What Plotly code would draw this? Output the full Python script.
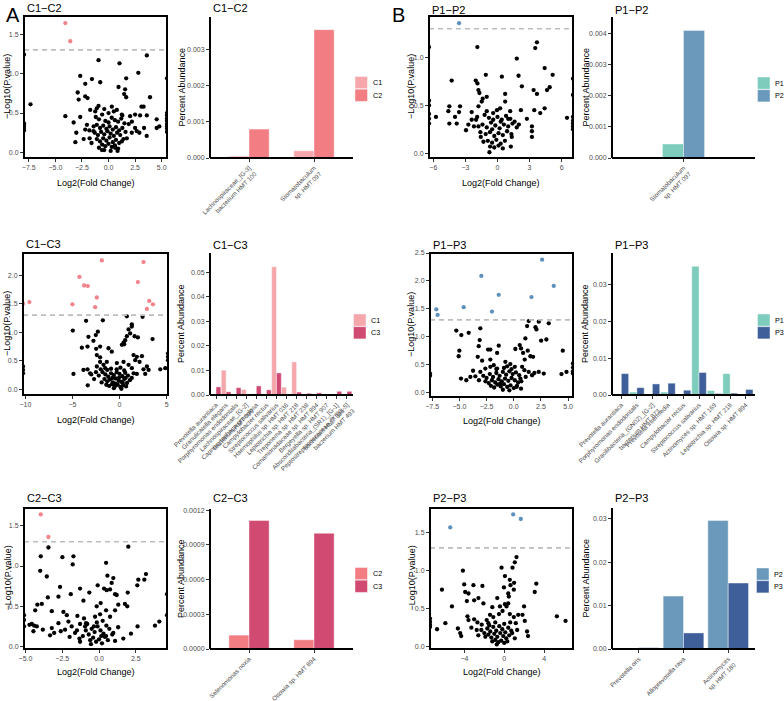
import plotly.graph_objects as go

W, H = 784, 701
FONT = "Liberation Sans, Arial, Helvetica, sans-serif"
THRESH = 1.301  # -log10(0.05)

# ---------------- volcano data: (log2 fold change, -log10 p) ----------------
volc_c1c2 = [
    (-4.06, 1.64), (-3.6, 1.41),
    (-7.95, 1.24), (-7.34, 0.61), (-7.95, 0.37), (-7.95, 0.34), (-7.95, 0.31), (-7.95, 0.28),
    (5.5, 0.94), (5.5, 0.5), (5.5, 0.47), (5.5, 0.43), (5.5, 0.4), (5.5, 0.36), (5.5, 0.33), (5.5, 0.3), (5.5, 0.26),
    (3.6, 1.23), (1.03, 1.13), (-0.94, 1.17), (2.8, 1.01), (-2.66, 0.97), (-1.56, 0.93), (-0.78, 0.89),
    (1.66, 0.94), (-2.19, 0.87), (0.94, 0.83), (1.56, 0.80), (-2.9, 0.76), (-2.19, 0.71), (-1.97, 0.69),
    (-2.81, 0.67), (1.47, 0.74), (1.66, 0.70), (3.9, 0.70), (3.1, 0.58), (3.3, 0.58), (0.31, 0.58),
    (-0.94, 0.59), (-1.1, 0.56), (-1.72, 0.54), (-1.25, 0.52), (-4.06, 0.46), (-2.66, 0.45), (-3.28, 0.38),
    (0.78, 0.54), (1.25, 0.48), (2.03, 0.46), (2.5, 0.48), (2.97, 0.47), (3.6, 0.47), (4.53, 0.42),
    (4.78, 0.33), (4.53, 0.31), (3.34, 0.31), (3.59, 0.21), (2.5, 0.31), (2.19, 0.25), (-2.03, 0.35),
    (-2.19, 0.29), (-3.03, 0.25), (-3.12, 0.13), (-2.34, 0.17), (-1.78, 0.18), (-1.41, 0.27),
    (2.66, 0.27), (2.9, 0.25), (1.72, 0.18), (1.25, 0.14), (0.62, 0.06), (-0.62, 0.03), (0.85, 0.02),
    (-1.2, 0.45), (-0.9, 0.42), (-0.6, 0.48), (-0.3, 0.40), (0.0, 0.38), (0.3, 0.44), (0.6, 0.41),
    (0.9, 0.39), (1.2, 0.43), (1.5, 0.37), (-1.4, 0.33), (-1.1, 0.35), (-0.8, 0.31), (-0.5, 0.34),
    (-0.2, 0.30), (0.1, 0.33), (0.4, 0.29), (0.7, 0.32), (1.0, 0.28), (1.3, 0.31), (-1.3, 0.25),
    (-1.0, 0.22), (-0.7, 0.26), (-0.4, 0.23), (-0.1, 0.27), (0.2, 0.24), (0.5, 0.21), (0.8, 0.25),
    (1.1, 0.22), (1.6, 0.26), (-1.1, 0.17), (-0.8, 0.14), (-0.5, 0.18), (-0.2, 0.15), (0.1, 0.19),
    (0.4, 0.13), (0.7, 0.16), (1.0, 0.12), (-0.6, 0.10), (-0.3, 0.08), (0.0, 0.11), (0.3, 0.07),
    (0.6, 0.09), (-0.9, 0.06), (0.9, 0.05), (-0.4, 0.03), (0.2, 0.02), (-1.6, 0.12), (1.4, 0.17),
    (-1.8, 0.28), (0.0, 0.50), (-0.4, 0.55), (0.5, 0.52), (1.3, 0.47), (1.9, 0.36), (2.2, 0.39),
]

volc_c1c3 = [
    (-9.57, 1.53), (-10.25, 1.50), (-5.0, 1.49), (-4.26, 1.97), (-3.76, 1.82), (-3.37, 1.81),
    (-2.41, 1.61), (-2.59, 1.44), (-1.88, 2.26), (2.55, 2.23), (1.95, 1.88), (3.16, 1.55),
    (3.55, 1.49), (2.91, 1.41),
    (0.78, 1.28), (2.45, 1.27), (-3.55, 1.20), (-1.77, 1.21), (-4.96, 1.03), (0.96, 1.05),
    (1.31, 1.14), (1.31, 1.10), (1.13, 0.98), (0.78, 0.93), (0.6, 0.86), (1.6, 0.93), (1.95, 0.91),
    (3.51, 0.88), (-3.3, 0.92), (-2.52, 0.95), (-2.3, 1.01), (-2.77, 0.85), (-3.4, 0.75), (-4.0, 0.73),
    (-2.06, 0.75), (-2.48, 0.71), (-2.41, 0.60), (-2.06, 0.56), (-1.17, 0.72), (-0.82, 0.66),
    (0.25, 0.78), (0.43, 0.82), (0.5, 0.79), (1.49, 0.60), (1.84, 0.57), (2.38, 0.58), (2.13, 0.48),
    (1.67, 0.51), (5.15, 0.63), (5.15, 0.57), (5.15, 0.51), (-10.25, 0.40), (-10.25, 0.34),
    (-10.25, 0.28), (-4.89, 0.27), (-3.83, 0.34), (-3.4, 0.35), (-3.12, 0.28), (-3.37, 0.07),
    (-2.41, 0.40), (-2.06, 0.48), (-1.7, 0.43), (-1.35, 0.48), (-1.52, 0.37), (-0.28, 0.46),
    (0.43, 0.48), (0.96, 0.43), (1.31, 0.37), (1.84, 0.27), (2.55, 0.35), (2.91, 0.40), (3.09, 0.34),
    (2.73, 0.27), (4.33, 0.35), (4.86, 0.37),
    (-1.8, 0.30), (-1.5, 0.26), (-1.2, 0.22), (-0.9, 0.28), (-0.6, 0.25), (-0.3, 0.30), (0.0, 0.27),
    (0.3, 0.23), (0.6, 0.29), (0.9, 0.24), (-1.6, 0.18), (-1.3, 0.14), (-1.0, 0.17), (-0.7, 0.12),
    (-0.4, 0.19), (-0.1, 0.15), (0.2, 0.13), (0.5, 0.18), (0.8, 0.11), (1.1, 0.16), (-1.4, 0.08),
    (-1.1, 0.06), (-0.8, 0.09), (-0.5, 0.05), (-0.2, 0.08), (0.1, 0.04), (0.4, 0.07), (0.7, 0.05),
    (-0.6, 0.02), (0.2, 0.01), (-2.2, 0.24), (-2.5, 0.30), (-1.9, 0.12), (1.3, 0.20), (1.5, 0.28),
    (-0.3, 0.35), (0.1, 0.38), (-0.9, 0.36), (0.5, 0.33), (-1.3, 0.34), (-0.45, 0.10), (0.35, 0.11),
    (-0.05, 0.20), (-0.75, 0.20), (0.65, 0.20), (-2.7, 0.18), (-3.0, 0.26), (-2.0, 0.35),
]

volc_c2c3 = [
    (-3.96, 1.64), (-3.44, 1.36),
    (-3.44, 1.23), (-3.96, 1.12), (-2.49, 1.11), (-1.74, 1.12), (-1.79, 1.02), (-4.0, 0.94),
    (-3.55, 0.87), (-2.65, 0.74), (-1.92, 0.65), (-3.48, 0.61), (-2.76, 0.62), (-1.06, 0.57),
    (-1.29, 0.72), (-0.66, 0.67), (-0.09, 0.76), (0.48, 1.04), (0.57, 0.88), (0.97, 0.85),
    (0.86, 0.79), (0.34, 0.72), (0.52, 0.70), (0.75, 0.71), (1.09, 0.65), (1.2, 0.64), (1.99, 1.24),
    (1.95, 0.67), (2.67, 0.83), (2.6, 0.76), (3.08, 0.83), (3.19, 0.90), (4.62, 0.65), (4.62, 0.39),
    (4.1, 0.31), (3.8, 0.26), (2.62, 0.25), (2.17, 0.16), (1.65, 0.10), (1.09, 0.07), (1.31, 0.52),
    (1.76, 0.53), (1.92, 0.50), (1.09, 0.45), (0.11, 0.54), (-0.16, 0.50), (0.07, 0.40), (0.48, 0.45),
    (0.75, 0.37), (-0.27, 0.37), (-1.02, 0.35), (-1.47, 0.38), (-2.19, 0.39), (-2.42, 0.43),
    (-3.21, 0.44), (-4.19, 0.52), (-3.89, 0.53), (-4.34, 0.45), (-5.1, 0.39), (-5.1, 0.33),
    (-5.1, 0.25), (-4.73, 0.27), (-4.57, 0.28), (-4.41, 0.26), (-4.23, 0.25), (-4.46, 0.19),
    (-3.82, 0.21), (-3.21, 0.23), (-3.33, 0.14), (-3.05, 0.17), (-2.76, 0.29), (-2.6, 0.19),
    (-2.31, 0.21), (-2.08, 0.31), (-1.86, 0.25), (-1.63, 0.17), (-1.29, 0.28), (-0.95, 0.25),
    (-1.29, 0.06), (-1.33, 0.10), (-0.88, 0.29), (0.97, 0.17), (0.48, 0.13),
    (-0.9, 0.20), (-0.7, 0.15), (-0.5, 0.22), (-0.3, 0.18), (-0.1, 0.25), (0.1, 0.20), (0.3, 0.16),
    (-0.6, 0.08), (-0.4, 0.11), (-0.2, 0.06), (0.0, 0.09), (0.2, 0.04), (0.4, 0.12), (-0.8, 0.28),
    (-0.15, 0.30), (0.5, 0.26), (0.7, 0.22), (0.9, 0.15), (-0.55, 0.03), (0.15, 0.13), (-1.1, 0.13),
    (0.6, 0.08), (-0.35, 0.25), (-2.0, 0.12), (-1.5, 0.20), (1.3, 0.24), (0.25, 0.32),
]

volc_p1p2 = [
    (-3.59, 1.36),
    (-6.4, 1.11), (-1.88, 1.11), (3.69, 1.16), (3.53, 1.10), (1.81, 0.99), (4.41, 0.89), (5.16, 0.82),
    (1.97, 0.81), (0.41, 0.80), (-1.09, 0.82), (-4.28, 0.76), (-2.03, 0.76), (-1.87, 0.73),
    (-1.78, 0.66), (-1.69, 0.63), (2.28, 0.70), (3.38, 0.66), (3.69, 0.62), (4.63, 0.66), (4.88, 0.69),
    (0.72, 0.62), (0.72, 0.54), (-1.38, 0.57), (-1.47, 0.54), (-1.78, 0.49), (-1.0, 0.59),
    (-4.5, 0.49), (-3.5, 0.49), (-4.59, 0.44), (-3.59, 0.43), (-3.97, 0.38), (-5.75, 0.38),
    (-4.5, 0.31), (-3.81, 0.31), (-2.41, 0.43), (-1.0, 0.44), (1.19, 0.44), (2.19, 0.45), (3.44, 0.45),
    (4.41, 0.47), (4.0, 0.42), (2.75, 0.36), (3.22, 0.28), (3.22, 0.23), (3.22, 0.17), (1.34, 0.17),
    (1.25, 0.07), (-2.94, 0.24), (-2.72, 0.30), (-2.41, 0.35), (-2.0, 0.35), (-1.78, 0.28),
    (-1.56, 0.17), (-1.31, 0.12), (-0.75, 0.01), (-0.69, 0.07), (6.5, 0.37),
    (7.06, 0.78), (7.06, 0.61), (7.06, 0.38), (7.06, 0.34), (7.06, 0.31), (7.06, 0.28), (7.06, 0.25),
    (-6.4, 0.55), (-6.4, 0.50), (-6.4, 0.41), (-6.4, 0.36), (-6.4, 0.31),
    (-1.2, 0.40), (-0.8, 0.37), (-0.4, 0.42), (0.0, 0.38), (0.4, 0.35), (0.8, 0.39), (1.2, 0.36),
    (1.6, 0.33), (-1.4, 0.30), (-1.0, 0.27), (-0.6, 0.32), (-0.2, 0.29), (0.2, 0.26), (0.6, 0.30),
    (1.0, 0.28), (1.4, 0.31), (1.8, 0.27), (-1.1, 0.20), (-0.7, 0.22), (-0.3, 0.18), (0.1, 0.21),
    (0.5, 0.19), (0.9, 0.23), (1.3, 0.20), (-0.9, 0.13), (-0.5, 0.11), (-0.1, 0.14), (0.3, 0.10),
    (0.7, 0.13), (-0.3, 0.06), (0.1, 0.08), (0.5, 0.05), (-1.6, 0.22), (2.0, 0.30), (-0.5, 0.25),
    (0.3, 0.33), (-0.05, 0.45), (0.25, 0.47), (-2.2, 0.28), (-1.9, 0.38), (1.0, 0.36), (-0.4, 0.35),
]

volc_p1p3 = [
    (-7.12, 1.49), (-7.0, 1.39), (-4.6, 1.53), (-2.98, 2.09), (-1.38, 1.75), (-2.0, 1.45),
    (1.63, 1.71), (2.61, 2.38), (3.68, 1.91),
    (1.38, 1.28), (2.3, 1.27), (3.22, 1.24), (1.23, 1.19), (2.0, 1.17), (2.09, 1.13), (-3.07, 1.15),
    (-5.28, 1.11), (-4.82, 1.03), (-4.14, 1.07), (-3.13, 0.94), (1.07, 0.97), (2.52, 0.93), (3.0, 0.95),
    (-3.22, 0.83), (-1.38, 0.84), (-2.36, 0.77), (-2.15, 0.77), (-1.53, 0.71), (-2.15, 0.59),
    (0.15, 0.78), (0.55, 0.85), (0.67, 0.79), (0.86, 0.71), (1.29, 0.75), (1.53, 0.65), (1.78, 0.64),
    (1.01, 0.59), (-5.0, 0.75), (-5.06, 0.65), (-3.31, 0.64), (-2.91, 0.57), (4.51, 0.75),
    (5.45, 0.52), (5.45, 0.45), (5.45, 0.38), (5.45, 0.34), (4.39, 0.33), (4.85, 0.37),
    (-7.7, 0.34), (-7.7, 0.30), (-4.85, 0.25), (-3.74, 0.39), (-3.53, 0.29), (-4.36, 0.22),
    (-3.99, 0.28), (-3.07, 0.37), (-2.61, 0.43), (-2.15, 0.46), (-1.84, 0.49), (-1.53, 0.43),
    (-0.77, 0.55), (-0.61, 0.47), (-0.31, 0.51), (0.77, 0.46), (0.98, 0.40), (1.38, 0.37), (1.9, 0.35),
    (2.3, 0.37), (2.76, 0.34), (1.69, 0.31), (0.61, 0.25), (0.25, 0.10), (0.67, 0.07),
    (-2.8, 0.30), (-2.5, 0.26), (-2.2, 0.33), (-1.9, 0.28), (-1.6, 0.35), (-1.3, 0.30), (-1.0, 0.37),
    (-0.7, 0.32), (-0.4, 0.38), (-0.1, 0.33), (0.2, 0.36), (0.5, 0.31), (-2.6, 0.20), (-2.3, 0.17),
    (-2.0, 0.22), (-1.7, 0.18), (-1.4, 0.24), (-1.1, 0.20), (-0.8, 0.25), (-0.5, 0.21), (-0.2, 0.26),
    (0.1, 0.22), (0.4, 0.18), (0.7, 0.20), (-2.1, 0.12), (-1.8, 0.09), (-1.5, 0.14), (-1.2, 0.11),
    (-0.9, 0.15), (-0.6, 0.10), (-0.3, 0.13), (0.0, 0.08), (0.3, 0.12), (-1.0, 0.05), (-0.4, 0.04),
    (-1.6, 0.42), (-0.9, 0.44), (-0.2, 0.42), (0.1, 0.46), (-3.2, 0.22), (1.1, 0.28), (-1.25, 0.16),
]

volc_p2p3 = [
    (-5.42, 1.57), (0.9, 1.74), (1.66, 1.68),
    (1.23, 1.18), (1.06, 1.11), (0.83, 1.04), (-0.27, 1.04), (-4.15, 1.00), (0.07, 0.93), (0.56, 0.88),
    (0.99, 0.84), (3.22, 0.83), (3.06, 0.72), (0.63, 0.81), (-0.03, 0.78), (-6.25, 0.75), (-4.02, 0.82),
    (-3.09, 0.81), (-2.19, 0.80), (-3.92, 0.72), (-3.59, 0.70), (-2.59, 0.64), (-3.02, 0.61),
    (-3.75, 0.60), (-0.7, 0.64), (0.4, 0.70), (0.46, 0.66), (0.96, 0.75), (0.4, 0.57), (0.07, 0.56),
    (0.23, 0.53), (-0.43, 0.53), (-1.2, 0.52), (-2.09, 0.57), (-5.25, 0.53), (1.99, 0.53),
    (5.28, 0.40), (6.15, 0.34), (-7.45, 0.37), (-7.45, 0.33), (-7.45, 0.29), (-7.45, 0.26),
    (-5.91, 0.31), (-6.74, 0.23), (-4.65, 0.24), (-4.42, 0.18), (-4.32, 0.14), (-3.69, 0.40),
    (-3.59, 0.35), (-3.02, 0.36), (-2.69, 0.32), (-2.26, 0.29), (-2.76, 0.22), (-1.76, 0.35),
    (-1.59, 0.31), (-1.43, 0.42), (-1.1, 0.39), (-0.53, 0.43), (-0.17, 0.47), (0.56, 0.43),
    (0.96, 0.39), (1.4, 0.42), (1.83, 0.42), (1.16, 0.31), (2.06, 0.34), (2.29, 0.20), (2.39, 0.14),
    (1.06, 0.11),
    (-2.3, 0.22), (-2.0, 0.18), (-1.7, 0.24), (-1.4, 0.20), (-1.1, 0.26), (-0.8, 0.21), (-0.5, 0.27),
    (-0.2, 0.23), (0.1, 0.19), (0.4, 0.25), (0.7, 0.21), (-1.9, 0.13), (-1.6, 0.16), (-1.3, 0.12),
    (-1.0, 0.17), (-0.7, 0.13), (-0.4, 0.18), (-0.1, 0.14), (0.2, 0.11), (0.5, 0.15), (0.8, 0.18),
    (-1.2, 0.07), (-0.9, 0.09), (-0.6, 0.06), (-0.3, 0.08), (0.0, 0.05), (0.3, 0.07), (-0.75, 0.03),
    (-1.5, 0.28), (-0.9, 0.32), (0.0, 0.30), (0.6, 0.32), (-2.6, 0.15), (-3.3, 0.25), (1.3, 0.22),
]

# ---------------- bar data: percent abundance ----------------
c1c2_taxa = ["Lachnospiraceae_[G-3]<br>bacterium HMT 100", "Stomatobaculum<br>sp. HMT 097"]
c1c2_C1 = [0.00005, 0.00020]
c1c2_C2 = [0.00080, 0.00355]

c1c3_taxa = ["Prevotella aurantiaca", "Granulicatella elegans", "Porphyromonas endodontalis",
             "Lachnospiraceae_[G-2]<br>bacterium HMT 096", "Capnocytophaga granulosa",
             "Campylobacter rectus", "Streptococcus salivarius", "Haemophilus sp. HMT 036",
             "Leptotrichia sp. HMT 218", "Treponema sp. HMT 238", "Comamonadaceae sp. HMT 894",
             "Bergeyella sp. HMT 907", "Absconditabacteria_(SR1)_[G-1]<br>bacterium HMT 345",
             "Peptostreptococcaceae_[XI][G-5]<br>bacterium HMT 493"]
c1c3_C1 = [0, 0.0101, 0, 0.0022, 0.0005, 0, 0.0523, 0.0032, 0.0135, 0, 0, 0, 0, 0]
c1c3_C3 = [0.0033, 0.0013, 0.0030, 0, 0.0037, 0.0021, 0.0090, 0, 0.0012, 0.0007, 0.0009, 0.0004, 0.0015, 0.0015]

c2c3_taxa = ["Selenomonas noxia", "Ottowia sp. HMT 894"]
c2c3_C2 = [0.00012, 0.00008]
c2c3_C3 = [0.00111, 0.00100]

p1p2_taxa = ["Stomatobaculum<br>sp. HMT 097"]
p1p2_P1 = [0.00045]
p1p2_P2 = [0.00410]

p1p3_taxa = ["Prevotella aurantiaca", "Porphyromonas endodontalis",
             "Gracilibacteria_(GN02)_[G-2]<br>bacterium HMT 873", "Prevotella intermedia",
             "Campylobacter rectus", "Streptococcus salivarius", "Actinomyces sp. HMT 169",
             "Leptotrichia sp. HMT 218", "Ottowia sp. HMT 894"]
p1p3_P1 = [0, 0.0008, 0, 0.0008, 0, 0.0349, 0.0012, 0.0058, 0]
p1p3_P3 = [0.0058, 0.0020, 0.0030, 0.0032, 0.0013, 0.0061, 0.0004, 0.0005, 0.0015]

p2p3_taxa = ["Prevotella oris", "Alloprevotella rava", "Actinomyces<br>sp. HMT 180"]
p2p3_P2 = [0, 0.0122, 0.0296]
p2p3_P3 = [0.0003, 0.0037, 0.0152]

# ---------------- colours ----------------
COL = {"C1": "#F5A7AB", "C2": "#F27E84", "C3": "#D04A72",
       "P1": "#7ECDBC", "P2": "#6A99BB", "P3": "#3F5F9B"}
HI_A = "#F2838B"
HI_B = "#5E90BC"
TICKCOL = "#4D4D4D"

fig = go.Figure()
layout = dict(template="none", width=W, height=H, margin=dict(l=0, r=0, t=0, b=0, autoexpand=False),
              paper_bgcolor="white", plot_bgcolor="white", showlegend=False,
              font=dict(family=FONT, color="black"), barmode="overlay")
annotations = []
shapes = []


def px(x):
    return x / W


def py(y):
    return 1 - y / H


def names(n):
    s = "" if n == 1 else str(n)
    return "x" + s, "y" + s, "xaxis" + s, "yaxis" + s


def text(x, y, t, size, xanchor="left", angle=0, color="black"):
    annotations.append(dict(x=px(x), y=py(y), xref="paper", yref="paper", text=t,
                            showarrow=False, xanchor=xanchor, yanchor="middle",
                            textangle=angle, font=dict(size=size, color=color, family=FONT)))


AXCOMMON = dict(showline=False, ticks="outside", ticklen=3, tickwidth=1, tickcolor="#333333",
                showgrid=False, zeroline=False, automargin=False)


def add_volcano(n, pts, hi, box, xr, yr, xdtick, xfmt, ydtick, title, xtitle_y, ytitle_x):
    xa, ya, xk, yk = names(n)
    xs = [p[0] for p in pts]
    ys = [p[1] for p in pts]
    cols = [hi if v > THRESH else "black" for v in ys]
    fig.add_trace(go.Scatter(x=xs, y=ys, mode="markers", xaxis=xa, yaxis=ya,
                             marker=dict(color=cols, size=4.3, line=dict(width=0))))
    x0, y0, x1, y1 = box
    tf = dict(size=7, color=TICKCOL, family=FONT)
    layout[xk] = dict(domain=[px(x0), px(x1)], range=xr, anchor=ya, dtick=xdtick, tick0=0,
                      tickformat=xfmt, tickfont=tf, **AXCOMMON)
    layout[yk] = dict(domain=[py(y1), py(y0)], range=yr, anchor=xa, dtick=ydtick, tick0=0,
                      tickformat=".1f", tickfont=tf, **AXCOMMON)
    shapes.append(dict(type="line", xref=xa + " domain", yref=ya, x0=0, x1=1, y0=THRESH, y1=THRESH,
                       line=dict(color="#BDBDBD", width=1.6, dash="5px,4px")))
    shapes.append(dict(type="rect", xref=xa + " domain", yref=ya + " domain", x0=0, x1=1, y0=0, y1=1,
                       line=dict(color="black", width=2), fillcolor="rgba(0,0,0,0)", layer="above"))
    text(x0 + 1, title[1], title[0], 11)
    text((x0 + x1) / 2, xtitle_y, "Log2(Fold Change)", 9, xanchor="center")
    text(ytitle_x, (y0 + y1) / 2, "\u2212Log10(P.value)", 9, xanchor="center", angle=-90)


def add_bar(n, taxa, va, vb, ca, cb, w, box, xr, yr, ydtick, yfmt, title, ytitle_x, legend):
    xa, ya, xk, yk = names(n)
    for vals, col, off in ((va, ca, -w), (vb, cb, 0.0)):
        fig.add_trace(go.Bar(x=taxa, y=[v if v > 0 else None for v in vals], width=w, offset=off,
                             xaxis=xa, yaxis=ya,
                             marker=dict(color=col, line=dict(color="rgba(255,255,255,0.7)", width=0.6))))
    x0, y0, x1, y1 = box
    layout[xk] = dict(domain=[px(x0), px(x1)], range=xr, anchor=ya, type="category",
                      categoryorder="array", categoryarray=taxa, tickangle=-45,
                      tickfont=dict(size=6.3, color=TICKCOL, family=FONT), **AXCOMMON)
    layout[yk] = dict(domain=[py(y1), py(y0)], range=yr, anchor=xa, dtick=ydtick, tick0=0,
                      tickformat=yfmt, tickfont=dict(size=7, color=TICKCOL, family=FONT), **AXCOMMON)
    shapes.append(dict(type="line", xref=xa + " domain", yref=ya + " domain", x0=0, x1=0, y0=0, y1=1,
                       line=dict(color="black", width=2), layer="above"))
    shapes.append(dict(type="line", xref=xa + " domain", yref=ya + " domain", x0=0, x1=1, y0=0, y1=0,
                       line=dict(color="black", width=2), layer="above"))
    text(x0 + 1, title[1], title[0], 11)
    text(ytitle_x, (y0 + y1) / 2, "Percent Abundance", 9, xanchor="center", angle=-90)
    lx, ly, labels = legend
    for i, (lab, col) in enumerate(zip(labels, (ca, cb))):
        top = ly + i * 12.7
        shapes.append(dict(type="rect", xref="paper", yref="paper", x0=px(lx), x1=px(lx + 12.5),
                           y0=py(top + 12.2), y1=py(top), fillcolor=col,
                           line=dict(color="rgba(255,255,255,0.7)", width=0.6)))
        text(lx + 15.5, top + 6.2, lab, 7.2)


# ----- panel A -----
add_volcano(1, volc_c1c2, HI_A, (24, 16, 167, 158), [-7.95, 5.5], [-0.07, 1.73], 2.5, ".1f", 0.5,
            ("C1\u2212C2", 8), 183, 7)
add_bar(2, c1c2_taxa, c1c2_C1, c1c2_C2, COL["C1"], COL["C2"], 0.31, (210, 17, 353, 158),
        [-0.6, 1.6], [0, 0.0039], 0.001, ".3f", ("C1\u2212C2", 8), 181, (355, 76.5, ["C1", "C2"]))

add_volcano(3, volc_c1c3, HI_A, (23, 253, 168, 395), [-10.25, 5.15], [-0.1, 2.39], 5, "d", 0.5,
            ("C1\u2212C3", 244), 420, 7)
add_bar(4, c1c3_taxa, c1c3_C1, c1c3_C3, COL["C1"], COL["C3"], 0.48, (210, 253, 353, 395),
        [-0.6, 13.6], [0, 0.0579], 0.01, ".2f", ("C1\u2212C3", 245), 181, (353.5, 314, ["C1", "C3"]))

add_volcano(5, volc_c2c3, HI_A, (24, 508, 167, 649), [-5.1, 4.62], [-0.03, 1.72], 2.5, ".1f", 0.5,
            ("C2\u2212C3", 498), 672, 7)
add_bar(6, c2c3_taxa, c2c3_C2, c2c3_C3, COL["C2"], COL["C3"], 0.31, (210, 509, 353, 649),
        [-0.6, 1.6], [0, 0.00121], 0.0003, ".4f", ("C2\u2212C3", 498), 181, (355, 567.5, ["C2", "C3"]))

# ----- panel B -----
add_volcano(7, volc_p1p2, HI_B, (429, 16, 573, 158), [-6.4, 7.06], [-0.05, 1.435], 3, "d", 0.5,
            ("P1\u2212P2", 10), 183, 411)
add_bar(8, p1p2_taxa, p1p2_P1, p1p2_P2, COL["P1"], COL["P2"], 0.177, (612, 17, 755, 158),
        [-0.6, 0.6], [0, 0.00453], 0.001, ".3f", ("P1\u2212P2", 10), 585, (757.5, 77, ["P1", "P2"]))

add_volcano(9, volc_p1p3, HI_B, (430, 253, 573, 397), [-7.7, 5.45], [-0.08, 2.5], 2.5, ".1f", 0.5,
            ("P1\u2212P3", 245), 421, 411)
add_bar(10, p1p3_taxa, p1p3_P1, p1p3_P3, COL["P1"], COL["P3"], 0.47, (612, 253, 755, 395),
        [-0.6, 8.6], [0, 0.0385], 0.01, ".2f", ("P1\u2212P3", 245), 585, (757.5, 314, ["P1", "P3"]))

add_volcano(11, volc_p2p3, HI_B, (430, 508, 573, 649), [-7.45, 6.9], [-0.03, 1.825], 4, "d", 0.5,
            ("P2\u2212P3", 498), 672, 411)
add_bar(12, p2p3_taxa, p2p3_P2, p2p3_P3, COL["P2"], COL["P3"], 0.455, (612, 508, 755, 649),
        [-0.6, 2.6], [0, 0.0325], 0.01, ".2f", ("P2\u2212P3", 498), 585, (756.5, 568, ["P2", "P3"]))

text(4, 15, "A", 20)
text(390, 15, "B", 20)

layout["annotations"] = annotations
layout["shapes"] = shapes
fig.update_layout(**layout)
fig.write_html("out.html", config={"displayModeBar": False},
               post_script="document.body.style.margin='0px';")
